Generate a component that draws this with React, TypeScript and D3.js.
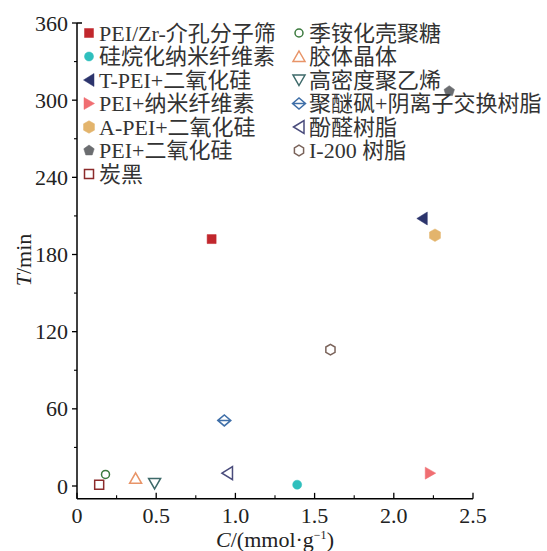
import React from "react";
import * as d3 from "d3";

const seriesNames = [
  "PEI/Zr-介孔分子筛",
  "硅烷化纳米纤维素",
  "T-PEI+二氧化硅",
  "PEI+纳米纤维素",
  "A-PEI+二氧化硅",
  "PEI+二氧化硅",
  "炭黑",
  "季铵化壳聚糖",
  "胶体晶体",
  "高密度聚乙烯",
  "聚醚砜+阴离子交换树脂",
  "酚醛树脂",
  "I-200 树脂",
];
const xValues = [0.85, 1.39, 2.18, 2.23, 2.26, 2.35, 0.14, 0.18, 0.37, 0.49, 0.93, 0.95, 1.6];
const yValues = [192, 1, 208, 10, 195, 307, 1, 9, 6, 2, 51, 10, 106];
const shapes = ["square", "circle", "triLeft", "triRight", "hexagon", "pentagon", "square", "circle", "triUp", "triDown", "diamond", "triLeft", "hexagon"];
const filled = [true, true, true, true, true, true, false, false, false, false, false, false, false];
const colors = ["#c1272d", "#2fbfbd", "#2c346c", "#f06e72", "#e3b46c", "#6b6d70", "#8c2b2b", "#3c7a3e", "#e89468", "#3e6a6a", "#3f6fa8", "#4a4c7c", "#7a635a"];

const xTicks = [0, 0.5, 1.0, 1.5, 2.0, 2.5];
const xTickLabels = ["0", "0.5", "1.0", "1.5", "2.0", "2.5"];
const yTicks = [0, 60, 120, 180, 240, 300, 360];

const W = 547;
const H = 551;
const FONT = "'Liberation Serif', 'Times New Roman', 'Noto Sans CJK SC', serif";

function polygon(n: number, r: number, rot: number): string {
  const pts: string[] = [];
  for (let i = 0; i < n; i++) {
    const a = rot + (i * 2 * Math.PI) / n;
    pts.push(`${(r * Math.cos(a)).toFixed(2)},${(r * Math.sin(a)).toFixed(2)}`);
  }
  return "M" + pts.join("L") + "Z";
}

function markerPath(shape: string): string {
  switch (shape) {
    case "square":
      return "M-4.5,-4.5L4.5,-4.5L4.5,4.5L-4.5,4.5Z";
    case "circle":
      return d3.symbol(d3.symbolCircle, 64)() as string;
    case "triLeft":
      return "M-5.5,0L5,-6.5L5,6.5Z";
    case "triRight":
      return "M5.5,0L-5,-6L-5,6Z";
    case "triUp":
      return "M0,-5.5L6,5L-6,5Z";
    case "triDown":
      return "M0,5.5L6,-5L-6,-5Z";
    case "hexagon":
      return polygon(6, 6.3, -Math.PI / 2);
    case "pentagon":
      return polygon(5, 5.5, -Math.PI / 2);
    case "diamond":
      return "M-6.5,0L0,-5.5L6.5,0L0,5.5ZM-6.5,0L6.5,0";
    default:
      return "";
  }
}

function Marker({ i, x, y }: { i: number; x: number; y: number }) {
  const open = !filled[i];
  let path = markerPath(shapes[i]);
  if (open && shapes[i] === "circle") path = d3.symbol(d3.symbolCircle, 50)() as string;
  if (open && shapes[i] === "hexagon") path = polygon(6, 5.3, -Math.PI / 2);
  if (open && shapes[i] === "square") path = "M-4.5,-4.5L4.5,-4.5L4.5,4.5L-4.5,4.5Z";
  return (
    <path
      d={path}
      transform={`translate(${x},${y})`}
      fill={open ? "none" : colors[i]}
      stroke={colors[i]}
      strokeWidth={open ? 1.5 : 0.5}
    />
  );
}

export default function App() {
  const x = d3.scaleLinear().domain([0, 2.5]).range([77, 473]);
  const y = d3.scaleLinear().domain([0, 360]).range([486, 23]);
  const yBottom = y(-10);
  const xMinor = d3.range(0.25, 2.5, 0.5);
  const yMinor = d3.range(30, 360, 60);

  const legendLeft = seriesNames.slice(0, 7).map((n, k) => ({ n, i: k, col: 0, row: k }));
  const legendRight = seriesNames.slice(7).map((n, k) => ({ n, i: k + 7, col: 1, row: k }));
  const legend = [...legendLeft, ...legendRight];

  return (
    <svg
      width={W}
      height={H}
      style={{ position: "absolute", left: 0, top: 0, background: "#fff" }}
      fontFamily={FONT}
    >
      {/* axes */}
      <line x1={x(0)} x2={x(0)} y1={y(360)} y2={yBottom} stroke="#000" strokeWidth={1.5} />
      <line x1={x(0)} x2={x(2.5)} y1={yBottom} y2={yBottom} stroke="#000" strokeWidth={1.5} />
      <line x1={x(0)} x2={x(0) + 5} y1={y(360)} y2={y(360)} stroke="#000" strokeWidth={1.5} />
      {yTicks.map((t) => (
        <g key={"yt" + t}>
          <line x1={x(0) - 5} x2={x(0)} y1={y(t)} y2={y(t)} stroke="#000" strokeWidth={1.3} />
          <text x={68} y={y(t) + 7.5} textAnchor="end" fontSize={22} fill="#222">
            {t}
          </text>
        </g>
      ))}
      {yMinor.map((t) => (
        <line key={"ym" + t} x1={x(0) - 3} x2={x(0)} y1={y(t)} y2={y(t)} stroke="#000" strokeWidth={1.1} />
      ))}
      {xTicks.map((t, k) => (
        <g key={"xt" + t}>
          <line x1={x(t)} x2={x(t)} y1={yBottom} y2={yBottom - 6} stroke="#000" strokeWidth={1.3} />
          <text x={x(t)} y={523} textAnchor="middle" fontSize={22} fill="#222">
            {xTickLabels[k]}
          </text>
        </g>
      ))}
      {xMinor.map((t) => (
        <line key={"xm" + t} x1={x(t)} x2={x(t)} y1={yBottom} y2={yBottom - 3.5} stroke="#000" strokeWidth={1.1} />
      ))}

      {/* axis titles */}
      <text x={275} y={547} textAnchor="middle" fontSize={22} fill="#222">
        <tspan fontStyle="italic">C</tspan>
        <tspan>/(mmol·g</tspan>
        <tspan fontSize={12} dy={-8}>−1</tspan>
        <tspan dy={8}>)</tspan>
      </text>
      <text
        transform={`translate(31,260) rotate(-90)`}
        textAnchor="middle"
        fontSize={22}
        fill="#222"
      >
        <tspan fontStyle="italic">T</tspan>
        <tspan>/min</tspan>
      </text>

      {/* data points */}
      {xValues.map((v, i) => (
        <Marker key={"p" + i} i={i} x={x(v)} y={y(yValues[i])} />
      ))}

      {/* legend */}
      {legend.map((d) => {
        const mx = d.col === 0 ? 89 : 299;
        const cy = 33 + d.row * 23.5;
        return (
          <g key={"lg" + d.i}>
            <Marker i={d.i} x={mx} y={cy} />
            <text x={mx + 10} y={cy + 7.5} fontSize={22} fill="#333">
              {d.n}
            </text>
          </g>
        );
      })}
    </svg>
  );
}
